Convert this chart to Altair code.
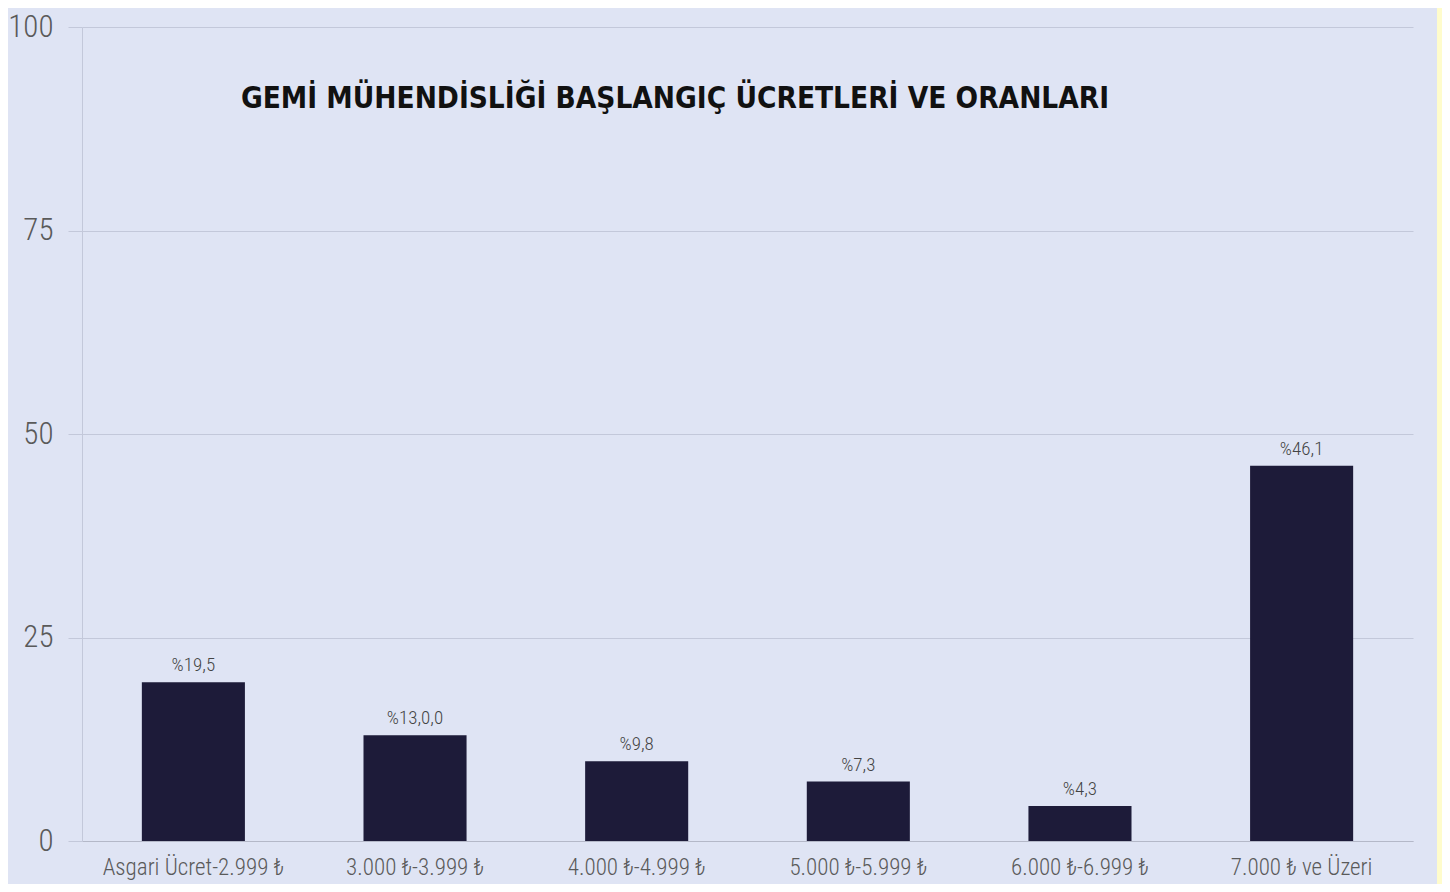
import altair as alt
import pandas as pd

categories = ["Asgari Ücret-2.999 ₺", "3.000 ₺-3.999 ₺", "4.000 ₺-4.999 ₺",
              "5.000 ₺-5.999 ₺", "6.000 ₺-6.999 ₺", "7.000 ₺ ve Üzeri"]
values = [19.5, 13.0, 9.8, 7.3, 4.3, 46.1]
value_labels = ["%19,5", "%13,0,0", "%9,8", "%7,3", "%4,3", "%46,1"]
y_ticks = [0, 25, 50, 75, 100]
title_text = "GEMİ MÜHENDİSLİĞİ BAŞLANGIÇ ÜCRETLERİ VE ORANLARI"

df = pd.DataFrame({"cat": categories, "val": values, "lab": value_labels})

NARROW = "Liberation Sans Narrow, Arial Narrow, Roboto Condensed, sans-serif"
BG = "#dfe4f4"
GRID = "#c3c8da"

x = alt.X("cat:N", sort=None, title=None,
          scale=alt.Scale(paddingInner=0.535, paddingOuter=0.27),
          axis=alt.Axis(labelAngle=0, labelFont=NARROW, labelFontSize=23,
                        labelFontWeight=300,
                        labelColor="#5a5a5a", labelPadding=15, ticks=False,
                        domain=True, domainColor="#b4b8c8", labelLimit=300))
y = alt.Y("val:Q", title=None,
          scale=alt.Scale(domain=[0, 100]),
          axis=alt.Axis(values=y_ticks, labelFont=NARROW, labelFontSize=31,
                        labelFontWeight=300,
                        labelColor="#5a5a5a", labelPadding=15, tickSize=14,
                        tickColor=GRID, gridColor=GRID, domain=True,
                        domainColor=GRID, labelBaseline="middle"))

bars = alt.Chart(df).mark_bar(color="#1d1b39").encode(x=x, y=y)
texts = alt.Chart(df).mark_text(baseline="bottom", dy=-7, font=NARROW,
                                fontSize=19, fontWeight=300,
                                color="#444444").encode(
    x=alt.X("cat:N", sort=None), y="val:Q", text="lab:N")

title = alt.Chart(pd.DataFrame({"t": [title_text]})).mark_text(
    font="Comic Sans MS, DejaVu Sans Condensed, DejaVu Sans", fontWeight="bold",
    fontSize=29.5, color="#111111", baseline="middle", align="center").encode(
    x=alt.value(593), y=alt.value(72), text="t:N")

strip = alt.Chart(pd.DataFrame({"a": [0]})).mark_rect(color="#fffccc").encode(
    x=alt.value(1355), x2=alt.value(1400), y=alt.value(-40), y2=alt.value(900))

chart = alt.layer(bars, texts, title, strip).properties(
    width=1331, height=814,
    autosize=alt.AutoSizeParams(type="none"),
    padding={"left": 74, "top": 19, "right": 29, "bottom": 43},
    background=BG,
).configure_view(stroke=None, fill=BG)

chart.save("out.html", embed_options={"renderer": "svg", "actions": False})
